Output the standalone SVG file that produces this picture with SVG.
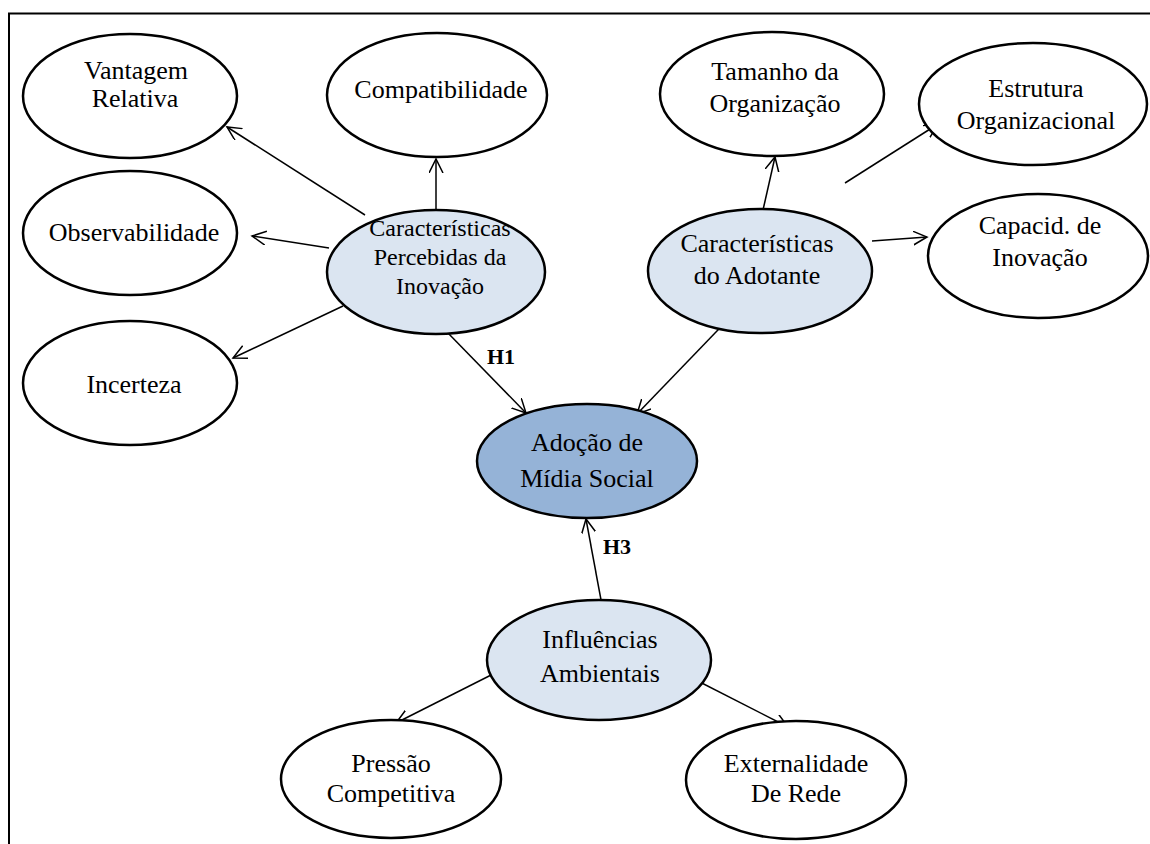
<svg xmlns="http://www.w3.org/2000/svg" width="1150" height="844" viewBox="0 0 1150 844">
<style>
.n{stroke:#000;stroke-width:2.5;fill:#fff}
.b{fill:#dbe5f1}
.d{fill:#95b3d7}
text{font-family:"Liberation Serif",serif;font-size:26px;fill:#000;text-anchor:middle}
.s{font-size:24px}
.h{font-weight:bold;font-size:22px;text-anchor:start}
.c{stroke:#000;stroke-width:1.5;fill:none;marker-end:url(#a)}
</style>
<defs>
<marker id="a" markerUnits="userSpaceOnUse" markerWidth="16" markerHeight="16" refX="14" refY="7" orient="auto">
<path d="M0,0 L14,7 L0,14" fill="none" stroke="#000" stroke-width="1.5"/>
</marker>
</defs>
<rect width="1150" height="844" fill="#fff"/>
<path d="M9,844 V13.5 H1150" fill="none" stroke="#000" stroke-width="2"/>
<g id="connectors">
<line class="c" x1="365" y1="215" x2="227" y2="127"/>
<line class="c" x1="436" y1="211" x2="436" y2="159"/>
<line class="c" x1="329" y1="248" x2="252" y2="236"/>
<line class="c" x1="343" y1="306" x2="233" y2="358"/>
<line class="c" x1="447" y1="332" x2="526" y2="413"/>
<line class="c" x1="742" y1="305" x2="637" y2="414"/>
<line class="c" x1="763" y1="210" x2="775" y2="157"/>
<line class="c" x1="845" y1="183" x2="938" y2="124"/>
<line class="c" x1="872" y1="241" x2="927" y2="237"/>
<line class="c" x1="601" y1="600" x2="586" y2="519"/>
<line class="c" x1="501" y1="670" x2="396" y2="723"/>
<line class="c" x1="690" y1="677" x2="788" y2="727"/>
<text class="h" x="487" y="364">H1</text>
<text class="h" x="603" y="554">H3</text>
</g>
<g id="vantagem"><ellipse class="n" cx="130" cy="96" rx="107" ry="62"/><text x="136" y="79">Vantagem</text><text x="135" y="107">Relativa</text></g>
<g id="compatibilidade"><ellipse class="n" cx="437" cy="95" rx="110" ry="62"/><text x="441" y="98">Compatibilidade</text></g>
<g id="observabilidade"><ellipse class="n" cx="130" cy="233" rx="107" ry="62"/><text x="134" y="241">Observabilidade</text></g>
<g id="incerteza"><ellipse class="n" cx="130" cy="383" rx="107" ry="62"/><text x="134" y="393">Incerteza</text></g>
<g id="cpi"><ellipse class="n b" cx="436" cy="272" rx="109" ry="62"/><text class="s" x="440" y="236">Características</text><text class="s" x="440" y="265">Percebidas da</text><text class="s" x="440" y="294">Inovação</text></g>
<g id="tamanho"><ellipse class="n" cx="772" cy="94" rx="112" ry="62"/><text x="775" y="80">Tamanho da</text><text x="775" y="112">Organização</text></g>
<g id="estrutura"><ellipse class="n" cx="1033" cy="104" rx="114" ry="61"/><text x="1036" y="97">Estrutura</text><text x="1036" y="129">Organizacional</text></g>
<g id="capacid"><ellipse class="n" cx="1038" cy="256" rx="110" ry="62"/><text x="1040" y="234">Capacid. de</text><text x="1040" y="266">Inovação</text></g>
<g id="adotante"><ellipse class="n b" cx="760" cy="271" rx="112" ry="62"/><text x="757" y="252">Características</text><text x="757" y="284">do Adotante</text></g>
<g id="adocao"><ellipse class="n d" cx="587" cy="461" rx="110" ry="57"/><text x="587" y="451">Adoção de</text><text x="587" y="487">Mídia Social</text></g>
<g id="influencias"><ellipse class="n b" cx="599" cy="660" rx="112" ry="60"/><text x="600" y="648">Influências</text><text x="600" y="682">Ambientais</text></g>
<g id="pressao"><ellipse class="n" cx="391" cy="779" rx="110" ry="59"/><text x="391" y="772">Pressão</text><text x="391" y="802">Competitiva</text></g>
<g id="externalidade"><ellipse class="n" cx="796" cy="780" rx="110" ry="59"/><text x="796" y="772">Externalidade</text><text x="796" y="802">De Rede</text></g>
</svg>
